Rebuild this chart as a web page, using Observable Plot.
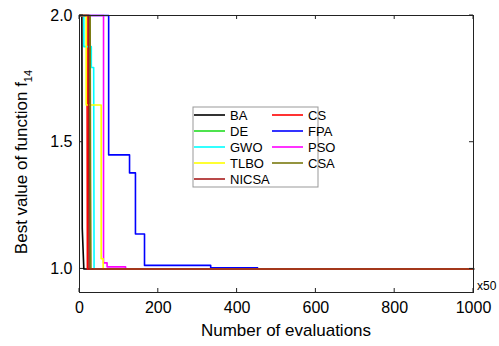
<!DOCTYPE html>
<html>
<head>
<meta charset="utf-8">
<script src="https://cdn.jsdelivr.net/npm/d3@7"></script>
<script src="https://cdn.jsdelivr.net/npm/@observablehq/plot@0.6"></script>
<style>
  body { margin: 0; background: #fff; }
  #chart { width: 499px; height: 346px; }
</style>
</head>
<body>
<div id="chart"></div>
<script>
// Convergence of the best value of f14 for each optimiser (evaluations in units of 50)
const algorithms = ["BA", "CS", "DE", "FPA", "GWO", "PSO", "TLBO", "CSA", "NICSA"];
const colors = ["#000000", "#ff0000", "#22dd22", "#0000ff", "#00ffff", "#ff00ff", "#ffff00", "#7a7a10", "#a81c1c"];

const baEval = [1, 6, 7, 11, 1000];
const baBest = [2.0, 2.0, 1.16, 1.0, 1.0];
const csEval = [1, 19, 20, 1000];
const csBest = [2.0, 2.0, 1.0, 1.0];
const deEval = [1, 25, 26, 27, 1000];
const deBest = [2.0, 2.0, 1.38, 1.0, 1.0];
const fpaEval = [1, 74, 74, 127, 127, 142, 142, 165, 165, 333, 333, 452, 452, 1000];
const fpaBest = [2.0, 2.0, 1.45, 1.45, 1.379, 1.379, 1.138, 1.138, 1.014, 1.014, 1.004, 1.004, 1.0, 1.0];
const gwoEval = [1, 11, 11, 30, 30, 36, 37, 1000];
const gwoBest = [2.0, 2.0, 1.877, 1.877, 1.795, 1.795, 1.0, 1.0];
const psoEval = [1, 61, 61, 70, 70, 117, 117, 1000];
const psoBest = [2.0, 2.0, 1.024, 1.024, 1.008, 1.008, 1.0, 1.0];
const tlboEval = [1, 17, 17, 55, 55, 60, 60, 1000];
const tlboBest = [2.0, 2.0, 1.647, 1.647, 1.04, 1.04, 1.0, 1.0];
const csaEval = [1, 27, 28, 29, 1000];
const csaBest = [2.0, 2.0, 1.355, 1.0, 1.0];
const nicsaEval = [1, 23, 24, 1000];
const nicsaBest = [2.0, 2.0, 1.0, 1.0];

const xTicks = [0, 200, 400, 600, 800, 1000];
const yTicks = [1.0, 1.5, 2.0];

const seriesEval = [baEval, csEval, deEval, fpaEval, gwoEval, psoEval, tlboEval, csaEval, nicsaEval];
const seriesBest = [baBest, csBest, deBest, fpaBest, gwoBest, psoBest, tlboBest, csaBest, nicsaBest];

const rows = algorithms.flatMap((alg, i) =>
  seriesEval[i].map((e, j) => ({alg, evals: e, best: seriesBest[i][j]}))
);

const FONT = "'Liberation Sans', Arial, Helvetica, sans-serif";
const AXIS = "#222";

const svg = Plot.plot({
  width: 499,
  height: 346,
  marginLeft: 79,
  marginRight: 26,
  marginTop: 15,
  marginBottom: 54,
  style: {fontFamily: FONT, fontSize: "16px", color: "#000", background: "#fff", overflow: "visible"},
  x: {domain: [0, 1000]},
  y: {domain: [0.907, 2.0]},
  color: {domain: algorithms, range: colors},
  marks: [
    Plot.line(rows, {x: "evals", y: "best", z: "alg", stroke: "alg", strokeWidth: 1.6}),
    Plot.frame({stroke: AXIS, strokeWidth: 1}),
    Plot.axisX(xTicks, {anchor: "bottom", tickSize: 0, tickPadding: 9, tickFormat: d3.format("d"), label: null, fontSize: 16}),
    Plot.axisY(yTicks, {anchor: "left", tickSize: 0, tickPadding: 7, tickFormat: d3.format(".1f"), label: null, fontSize: 16})
  ]
});

const sx = svg.scale("x"), sy = svg.scale("y");
const [xLeft, xRight] = sx.range, [yBottom, yTop] = sy.range;
const g = d3.select(svg).append("g").attr("font-family", FONT).attr("fill", "#000").attr("text-anchor", "start");

// inward tick marks on all four sides
const tickMarks = g.append("g").attr("stroke", AXIS).attr("stroke-width", 1);
for (const v of xTicks) {
  const px = sx.apply(v);
  tickMarks.append("line").attr("x1", px).attr("x2", px).attr("y1", yBottom).attr("y2", yBottom - 4);
  tickMarks.append("line").attr("x1", px).attr("x2", px).attr("y1", yTop).attr("y2", yTop + 4);
}
for (const v of yTicks) {
  const py = sy.apply(v);
  tickMarks.append("line").attr("x1", xLeft).attr("x2", xLeft + 4).attr("y1", py).attr("y2", py);
  tickMarks.append("line").attr("x1", xRight).attr("x2", xRight - 4).attr("y1", py).attr("y2", py);
}

// axis titles
g.append("text")
  .attr("x", 286).attr("y", 336)
  .attr("text-anchor", "middle")
  .attr("font-size", 17)
  .text("Number of evaluations");

const yl = g.append("text")
  .attr("transform", "translate(27,162) rotate(-90)")
  .attr("text-anchor", "middle")
  .attr("font-size", 17);
yl.append("tspan").text("Best value of function f");
yl.append("tspan").attr("font-size", 11).attr("dy", 5).text("14");

g.append("text")
  .attr("x", 477).attr("y", 290)
  .attr("font-size", 12)
  .text("x50");

// legend box with two columns
const legend = g.append("g").attr("transform", "translate(193,107)");
legend.append("rect")
  .attr("width", 125).attr("height", 80)
  .attr("fill", "#fff").attr("stroke", "#999").attr("stroke-width", 1);
algorithms.forEach((alg, i) => {
  const col = i % 2, row = Math.floor(i / 2);
  const ox = col === 0 ? 1 : 79, oy = 8 + row * 16;
  legend.append("line")
    .attr("x1", ox).attr("x2", ox + 31)
    .attr("y1", oy).attr("y2", oy)
    .attr("stroke", colors[i]).attr("stroke-width", 1.6);
  legend.append("text")
    .attr("x", ox + 36).attr("y", oy + 5)
    .attr("font-size", 13)
    .text(alg);
});

document.getElementById("chart").appendChild(svg);
</script>
</body>
</html>
